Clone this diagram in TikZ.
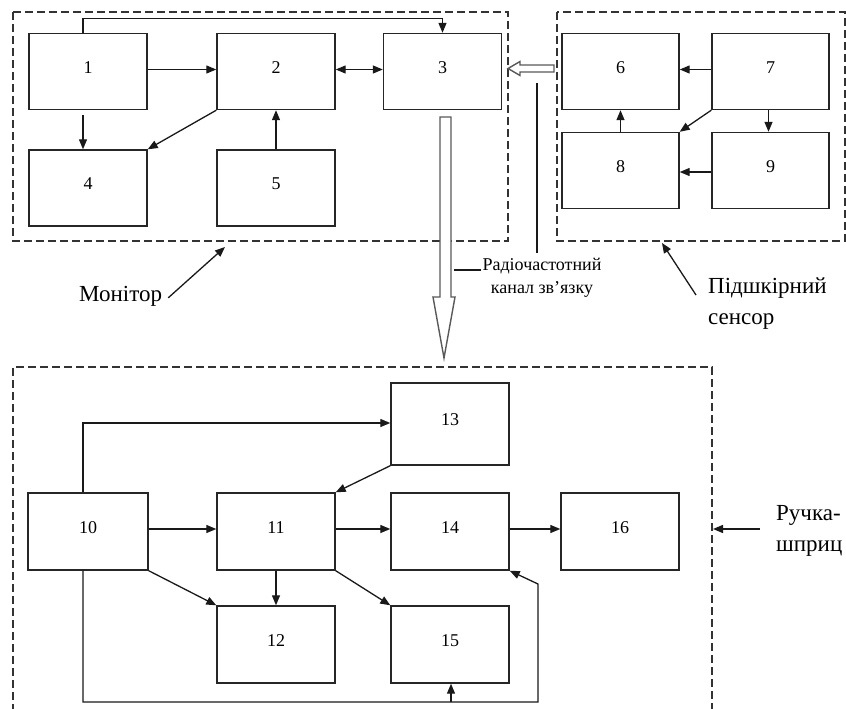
\documentclass[tikz,border=0pt]{standalone}
\usepackage{fontspec}
\setmainfont{Liberation Serif}
\usetikzlibrary{arrows.meta}
\begin{document}
\begin{tikzpicture}[x=1pt,y=-1pt,
  blk/.style={draw=black!85,line width=1.4pt,minimum width=118pt,minimum height=76pt,
    inner sep=0pt,text depth=8pt,font=\fontsize{18}{18}\selectfont},
  arr/.style={draw=black!90,line width=1.3pt,-{Triangle[length=10pt,width=8pt]}},
  biarr/.style={arr,{Triangle[length=10pt,width=8pt]}-{Triangle[length=10pt,width=8pt]}},
  plainln/.style={draw=black!90,line width=1.2pt},
  group/.style={draw=black!80,line width=1.2pt,dash pattern=on 8pt off 4pt},
  hollow/.style={draw=black!65,line width=1.4pt,fill=white},
  big/.style={font=\fontsize{23}{23}\selectfont,inner sep=0pt,anchor=base west},
  small/.style={font=\fontsize{18}{18}\selectfont,inner sep=0pt,anchor=base}]
\useasboundingbox (0,0) rectangle (846,709);

% group outlines
\draw[group] (13,12) rectangle (508,241);
\draw[group] (557,12) rectangle (845,241);
\draw[group] (13,712) -- (13,367) -- (712,367) -- (712,712);

% monitor blocks
\node[blk] (b1) at (88,71.5) {1};
\node[blk] (b2) at (276,71.5) {2};
\node[blk] (b3) at (442.5,71.5) {3};
\node[blk] (b4) at (88,188) {4};
\node[blk] (b5) at (276,188) {5};

% sensor blocks
\node[blk,minimum width=117pt] (b6) at (620.5,71.5) {6};
\node[blk,minimum width=117pt] (b7) at (770.5,71.5) {7};
\node[blk,minimum width=117pt] (b8) at (620.5,170.5) {8};
\node[blk,minimum width=117pt] (b9) at (770.5,170.5) {9};

% syringe pen blocks
\node[blk,minimum width=120pt,minimum height=77pt] (b10) at (88,531.5) {10};
\node[blk,minimum height=77pt] (b11) at (276,531.5) {11};
\node[blk,minimum height=77pt] (b12) at (276,644.5) {12};
\node[blk,minimum height=82pt] (b13) at (450,424) {13};
\node[blk,minimum height=77pt] (b14) at (450,531.5) {14};
\node[blk,minimum height=77pt] (b15) at (450,644.5) {15};
\node[blk,minimum height=77pt] (b16) at (620,531.5) {16};

% monitor links
\draw[arr] ([xshift=-5pt]b1.north) -- ++(0,-14) -| (b3.north);
\draw[arr] ([yshift=2pt]b1.east) -- ([yshift=2pt]b2.west);
\draw[biarr] ([yshift=2pt]b2.east) -- ([yshift=2pt]b3.west);
\draw[arr] ([xshift=-5pt,yshift=-5pt]b1.south) -- ([xshift=-5pt]b4.north);
\draw[arr] (b2.south west) -- (b4.north east);
\draw[arr] (b5.north) -- (b2.south);

% sensor links
\draw[arr] ([yshift=2pt]b7.west) -- ([yshift=2pt]b6.east);
\draw[arr] (b8.north) -- (b6.south);
\draw[arr] (b7.south west) -- (b8.north east);
\draw[arr] ([xshift=-2pt]b7.south) -- ([xshift=-2pt]b9.north);
\draw[arr] ([yshift=-1.5pt]b9.west) -- ([yshift=-1.5pt]b8.east);

% syringe pen links
\draw[arr] ([xshift=-5pt]b10.north) |- ([yshift=1pt]b13.west);
\draw[arr] (b13.south west) -- (b11.north east);
\draw[arr] ([yshift=2.5pt]b10.east) -- ([yshift=2.5pt]b11.west);
\draw[arr] ([yshift=2.5pt]b11.east) -- ([yshift=2.5pt]b14.west);
\draw[arr] ([yshift=2.5pt]b14.east) -- ([yshift=2.5pt]b16.west);
\draw[arr] (b10.south east) -- (b12.north west);
\draw[arr] (b11.south) -- (b12.north);
\draw[arr] (b11.south east) -- (b15.north west);
\coordinate (loopR) at (538,702);
\draw[arr] ([xshift=-5pt]b10.south) |- (loopR) -- ++(0,-118) -- (b14.south east);
\draw[arr] ([xshift=1pt]b15.south |- loopR) -- ([xshift=1pt]b15.south);

% radio channel block arrows
\draw[hollow] (440,117) -- (451,117) -- (451,297) -- (455,297) -- (444,358)
  -- (433,297) -- (440,297) -- cycle;
\draw[hollow] (554,65) -- (520,65) -- (520,61.5) -- (508,68.5) -- (520,75.5)
  -- (520,72) -- (554,72) -- cycle;

% radio channel caption
\node[small] (rf1) at (542,270) {Радіочастотний};
\node[small] (rf2) at (542,293) {канал зв’язку};
\coordinate (rfTop) at (537,83);
\draw[plainln] (rfTop) -- (rfTop |- 0,253);
\draw[plainln] ([xshift=-1pt]rf1.base west) -- ++(-27,0);

% group captions
\node[big] (mon) at (79,301) {Монітор};
\coordinate (monTip) at (225,247);
\draw[arr] ([xshift=6pt,yshift=-2pt]mon.east) -- (monTip);

\node[big] (sen1) at (708,293) {Підшкірний};
\node[big] (sen2) at (708,324) {сенсор};
\coordinate (senTail) at (696,295);
\coordinate (senTip) at (662,243);
\draw[arr] (senTail) -- (senTip);

\node[big] (pen1) at (776,520) {Ручка-};
\node[big] (pen2) at (776,551) {шприц};
\coordinate (penTail) at (760,529);
\coordinate (penTip) at (713,529);
\draw[arr] (penTail) -- (penTip);
\end{tikzpicture}
\end{document}
